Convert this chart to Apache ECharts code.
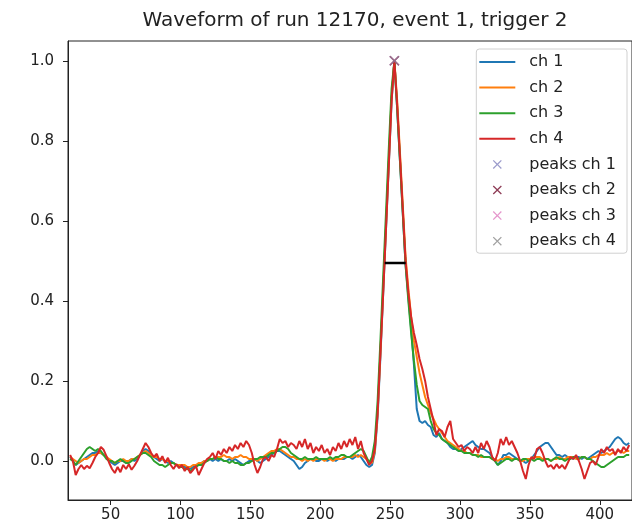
<!DOCTYPE html>
<html>
<head>
<meta charset="utf-8">
<script src="https://cdn.jsdelivr.net/npm/echarts@6/dist/echarts.min.js"></script>
<style>
  html, body { margin: 0; padding: 0; background: #fff; }
  #chart { width: 632px; height: 528px; }
</style>
</head>
<body>
<div id="chart"></div>
<script>
// Sample grid: first sample time and spacing (ns)
const t0 = 21;
const dt = 2;

// Normalised waveforms, one value per sample
const ch1 = [
  0.01, 0.0, -0.01, -0.005, 0.0, 0.005, 0.01, 0.015, 0.02, 0.02,
  0.025, 0.02, 0.015, 0.01, 0.0, -0.005, -0.01, -0.005, 0.0, 0.0,
  -0.005, 0.0, 0.005, 0.0, 0.005, 0.015, 0.025, 0.03, 0.025, 0.015,
  0.01, 0.005, 0.0, 0.005, 0.0, -0.005, 0.0, -0.005, -0.01, -0.01,
  -0.01, -0.015, -0.015, -0.02, -0.015, -0.01, -0.01, -0.005, 0.0, 0.0,
  0.005, 0.0, 0.005, 0.0, 0.005, 0.0, 0.0, 0.005, 0.0, 0.005,
  0.0, -0.005, -0.01, -0.005, 0.0, 0.0, 0.005, 0.0, -0.005, 0.0,
  0.005, 0.01, 0.015, 0.02, 0.025, 0.025, 0.02, 0.015, 0.01, 0.005,
  0.0, -0.01, -0.02, -0.015, -0.005, 0.0, 0.005, 0.005, 0.0, 0.0,
  0.005, 0.005, 0.0, 0.005, 0.005, 0.0, 0.005, 0.005, 0.005, 0.01,
  0.01, 0.005, 0.01, 0.015, 0.01, 0.0, -0.01, -0.015, -0.01, 0.02,
  0.11, 0.26, 0.42, 0.58, 0.74, 0.9, 1.0, 0.88, 0.75, 0.62,
  0.49, 0.41, 0.33, 0.24, 0.13, 0.1, 0.095, 0.1, 0.09, 0.085,
  0.065, 0.06, 0.07, 0.055, 0.05, 0.045, 0.035, 0.03, 0.03, 0.025,
  0.03, 0.035, 0.04, 0.045, 0.05, 0.04, 0.035, 0.03, 0.03, 0.025,
  0.02, 0.01, 0.0, -0.01, 0.0, 0.015, 0.015, 0.02, 0.015, 0.01,
  0.005, 0.0, 0.0, -0.005, 0.0, 0.005, 0.015, 0.025, 0.035, 0.04,
  0.045, 0.045, 0.035, 0.025, 0.015, 0.015, 0.01, 0.015, 0.01, 0.01,
  0.005, 0.01, 0.01, 0.005, 0.01, 0.005, 0.01, 0.015, 0.02, 0.025,
  0.02, 0.025, 0.03, 0.035, 0.045, 0.055, 0.06, 0.055, 0.045, 0.04,
  0.045
];
const ch2 = [
  0.01, 0.005, 0.0, -0.005, 0.0, 0.005, 0.005, 0.01, 0.015, 0.015,
  0.02, 0.02, 0.015, 0.01, 0.005, 0.0, -0.005, 0.0, 0.0, 0.005,
  0.0, 0.0, 0.005, 0.005, 0.01, 0.015, 0.02, 0.025, 0.02, 0.015,
  0.01, 0.01, 0.005, 0.005, 0.0, 0.0, -0.005, -0.005, -0.01, -0.01,
  -0.01, -0.01, -0.015, -0.015, -0.01, -0.01, -0.005, -0.005, 0.0, 0.0,
  0.005, 0.005, 0.01, 0.01, 0.01, 0.015, 0.01, 0.01, 0.005, 0.01,
  0.01, 0.015, 0.01, 0.01, 0.005, 0.005, 0.005, 0.0, 0.005, 0.01,
  0.015, 0.02, 0.025, 0.025, 0.03, 0.03, 0.025, 0.02, 0.015, 0.01,
  0.01, 0.005, 0.005, 0.0, 0.005, 0.0, 0.005, 0.0, 0.005, 0.005,
  0.005, 0.0, 0.005, 0.005, 0.0, 0.005, 0.005, 0.005, 0.01, 0.01,
  0.01, 0.01, 0.015, 0.01, 0.015, 0.01, 0.005, 0.0, -0.005, 0.025,
  0.12, 0.27, 0.43, 0.59, 0.75, 0.91, 1.0, 0.9, 0.77, 0.64,
  0.51, 0.43, 0.36, 0.3, 0.26, 0.22, 0.19, 0.16, 0.14, 0.12,
  0.105, 0.09, 0.08, 0.07, 0.06, 0.05, 0.045, 0.04, 0.035, 0.03,
  0.025, 0.025, 0.02, 0.02, 0.015, 0.015, 0.015, 0.01, 0.01, 0.01,
  0.01, 0.005, 0.005, 0.0, 0.005, 0.005, 0.01, 0.01, 0.005, 0.005,
  0.005, 0.0, 0.0, 0.005, 0.005, 0.005, 0.01, 0.01, 0.01, 0.005,
  0.005, 0.005, 0.0, 0.005, 0.005, 0.01, 0.005, 0.005, 0.01, 0.01,
  0.01, 0.005, 0.005, 0.01, 0.01, 0.005, 0.005, 0.01, 0.01, 0.015,
  0.015, 0.015, 0.02, 0.015, 0.02, 0.02, 0.025, 0.025, 0.02, 0.025,
  0.025
];
const ch3 = [
  0.005, 0.0, -0.01, 0.0, 0.01, 0.02, 0.03, 0.035, 0.03, 0.025,
  0.03, 0.025, 0.015, 0.005, 0.0, 0.0, -0.005, 0.0, 0.005, 0.0,
  -0.005, -0.005, 0.0, 0.005, 0.01, 0.015, 0.02, 0.02, 0.015, 0.01,
  0.0, -0.005, -0.01, -0.01, -0.015, -0.01, -0.005, -0.005, -0.01, -0.015,
  -0.015, -0.02, -0.02, -0.025, -0.02, -0.015, -0.01, -0.01, -0.005, 0.0,
  0.005, 0.005, 0.01, 0.005, 0.005, 0.0, 0.0, -0.005, 0.0, -0.005,
  -0.005, -0.01, -0.01, -0.005, -0.005, 0.0, 0.005, 0.005, 0.01, 0.01,
  0.01, 0.015, 0.02, 0.02, 0.025, 0.03, 0.035, 0.035, 0.03, 0.02,
  0.015, 0.01, 0.005, 0.005, 0.01, 0.005, 0.005, 0.005, 0.01, 0.005,
  0.005, 0.005, 0.005, 0.01, 0.005, 0.01, 0.01, 0.015, 0.015, 0.01,
  0.01, 0.015, 0.02, 0.025, 0.03, 0.025, 0.01, -0.005, 0.01, 0.05,
  0.15, 0.3, 0.46, 0.62, 0.78, 0.93, 1.0, 0.88, 0.75, 0.62,
  0.49, 0.4, 0.32, 0.25, 0.19, 0.15, 0.14, 0.135, 0.13, 0.1,
  0.08, 0.07, 0.065, 0.055, 0.05, 0.045, 0.04, 0.035, 0.03, 0.025,
  0.025, 0.02, 0.02, 0.02, 0.015, 0.015, 0.01, 0.015, 0.01, 0.01,
  0.01, 0.005, 0.0, -0.01, -0.005, 0.0, 0.005, 0.005, 0.0, 0.005,
  0.005, 0.0, 0.005, 0.005, 0.0, 0.005, 0.0, 0.005, 0.005, 0.0,
  0.005, 0.005, 0.0, 0.005, 0.01, 0.005, 0.005, 0.0, 0.005, 0.005,
  0.01, 0.01, 0.005, 0.01, 0.01, 0.005, 0.005, 0.0, -0.005, -0.01,
  -0.015, -0.015, -0.01, -0.005, 0.0, 0.005, 0.01, 0.01, 0.01, 0.015,
  0.015
];
const ch4 = [
  0.015, 0.0, -0.035, -0.02, -0.01, -0.02, -0.012, -0.018, -0.005, 0.01,
  0.02, 0.035, 0.028, 0.012, -0.005, -0.02, -0.03, -0.015, -0.028, -0.01,
  -0.02, -0.008, -0.022, -0.012, 0.0, 0.015, 0.03, 0.045, 0.035, 0.02,
  0.01, 0.018, 0.0, 0.012, -0.005, 0.008, -0.01, -0.02, -0.008, -0.018,
  -0.01, -0.025, -0.015, -0.03, -0.022, -0.012, -0.035, -0.02, -0.005, 0.005,
  0.01, 0.02, 0.005, 0.025, 0.015, 0.03, 0.02, 0.035, 0.025, 0.04,
  0.03, 0.045, 0.035, 0.05, 0.04, 0.02, -0.01, -0.03, -0.015, 0.005,
  0.01, 0.0, 0.015, 0.01, 0.03, 0.055, 0.045, 0.05, 0.035, 0.045,
  0.04, 0.03, 0.05, 0.035, 0.055, 0.03, 0.045, 0.02, 0.035, 0.025,
  0.04, 0.02, 0.03, 0.015, 0.035, 0.025, 0.045, 0.03, 0.05, 0.035,
  0.055, 0.04, 0.06, 0.03, 0.05, 0.02, 0.005, -0.01, 0.0, 0.03,
  0.12, 0.27, 0.42, 0.58, 0.74, 0.9, 1.0, 0.89, 0.76, 0.63,
  0.5, 0.42, 0.36, 0.32, 0.29, 0.255, 0.23, 0.2, 0.16, 0.13,
  0.1, 0.065, 0.08, 0.075, 0.06, 0.085, 0.1, 0.055, 0.045, 0.035,
  0.04, 0.025, 0.035, 0.03, 0.02, 0.035, 0.02, 0.045, 0.03, 0.05,
  0.035, 0.01, 0.0, 0.02, 0.055, 0.04, 0.06, 0.04, 0.05, 0.035,
  0.02, 0.0, -0.025, -0.045, -0.01, 0.01, 0.005, 0.03, 0.035, 0.02,
  0.0, -0.015, -0.01, -0.02, -0.008, -0.018, -0.01, -0.02, -0.005, 0.01,
  0.005, 0.015, 0.0, -0.02, -0.045, -0.025, -0.005, 0.0, -0.01, 0.01,
  0.03, 0.02, 0.035, 0.025, 0.03, 0.015, 0.03, 0.02, 0.035, 0.025,
  0.04
];

// Found peaks (time, amplitude) per channel
const peakT = [253, 253, 253, 253];
const peakA = [1.0, 1.0, 1.0, 1.0];

// Full width at half maximum marker
const fwhmT = [246.1, 261.1];
const fwhmA = 0.495;

// Axis ticks
const xTicks = [50, 100, 150, 200, 250, 300, 350, 400];
const yTicks = [0.0, 0.2, 0.4, 0.6, 0.8, 1.0];

const lineNames = ['ch 1', 'ch 2', 'ch 3', 'ch 4'];
const peakNames = ['peaks ch 1', 'peaks ch 2', 'peaks ch 3', 'peaks ch 4'];
const lineColors = ['#1f77b4', '#ff7f0e', '#2ca02c', '#d62728'];
const peakColors = ['rgba(110,100,190,0.72)', 'rgba(130,40,62,0.8)',
                    'rgba(228,110,190,0.72)', 'rgba(120,120,120,0.7)'];
// Peak markers as they appear over white in the legend
const peakKeyColors = ['#9c9ccc', '#8e3c56', '#e596cc', '#a2a2a2'];

const channels = [ch1, ch2, ch3, ch4];
const toPairs = arr => arr.map((v, i) => [t0 + i * dt, v]);

const cross = 'path://M0,1L1,0L5,4L9,0L10,1L6,5L10,9L9,10L5,6L1,10L0,9L4,5Z';
const lineIcon = 'path://M0,0H36V2H0Z';
const FONT = 'DejaVu Sans';

const series = [];
channels.forEach((arr, k) => {
  series.push({
    name: lineNames[k],
    type: 'line',
    data: toPairs(arr),
    symbol: 'none',
    showSymbol: false,
    lineStyle: { color: lineColors[k], width: 2 },
    itemStyle: { color: lineColors[k] },
    animation: false,
    z: 2 + k
  });
});
series.push({
  name: 'fwhm',
  type: 'line',
  data: fwhmT.map(t => [t, fwhmA]),
  symbol: 'none',
  lineStyle: { color: '#000', width: 2.5 },
  animation: false,
  z: 10
});
peakNames.forEach((n, k) => {
  series.push({
    name: n,
    type: 'scatter',
    data: [[peakT[k], peakA[k]]],
    symbol: cross,
    symbolSize: 10,
    itemStyle: { color: peakColors[k] },
    animation: false,
    z: 11 + k
  });
});

const chart = echarts.init(document.getElementById('chart'), null, { renderer: 'canvas' });
chart.setOption({
  backgroundColor: '#fff',
  animation: false,
  title: {
    text: 'Waveform of run 12170, event 1, trigger 2',
    left: 350,
    top: 6,
    textAlign: 'center',
    textStyle: { fontFamily: FONT, fontSize: 20, fontWeight: 'normal', color: '#222' }
  },
  grid: {
    left: 68, right: 0, top: 41, bottom: 28,
    show: true, borderColor: '#222', borderWidth: 1, backgroundColor: 'transparent'
  },
  legend: {
    orient: 'vertical',
    right: 5,
    top: 49,
    data: lineNames.map(n => ({ name: n, icon: lineIcon }))
      .concat(peakNames.map((n, k) => ({
        name: n, icon: cross, itemStyle: { color: peakKeyColors[k], opacity: 1 }
      }))),
    itemWidth: 36,
    itemHeight: 9,
    itemGap: 9.6,
    padding: [5, 11, 4, 3],
    backgroundColor: 'rgba(255,255,255,0.85)',
    borderColor: '#d0d0d0',
    borderWidth: 1,
    borderRadius: 3,
    textStyle: { fontFamily: FONT, fontSize: 16, color: '#222', lineHeight: 16, padding: [0, 0, 0, 9] }
  },
  xAxis: {
    type: 'value',
    min: 19.5,
    max: 423,
    splitLine: { show: false },
    axisLine: { show: true, onZero: false, lineStyle: { color: '#222', width: 1 } },
    axisTick: { show: true, length: 5, customValues: xTicks, lineStyle: { color: '#222' } },
    axisLabel: {
      customValues: xTicks, margin: 8,
      fontFamily: FONT, fontSize: 15, color: '#222'
    }
  },
  yAxis: {
    type: 'value',
    min: -0.0975,
    max: 1.0495,
    splitLine: { show: false },
    axisLine: { show: true, onZero: false, lineStyle: { color: '#222', width: 1 } },
    axisTick: { show: true, length: 5, customValues: yTicks, lineStyle: { color: '#222' } },
    axisLabel: {
      customValues: yTicks, margin: 14,
      fontFamily: FONT, fontSize: 15, color: '#222',
      formatter: v => v.toFixed(1)
    }
  },
  series: series
});
</script>
</body>
</html>
